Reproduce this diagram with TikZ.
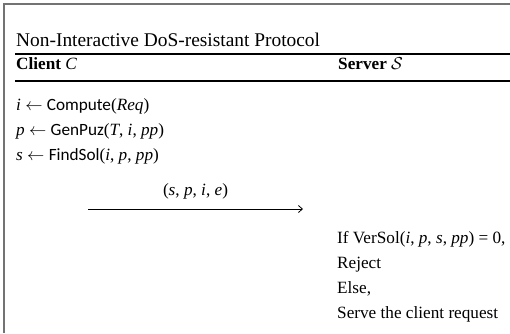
\documentclass[tikz,border=0pt]{standalone}
\usepackage{fontspec}
\usetikzlibrary{arrows.meta,calc}
\setmainfont{Liberation Serif}
\newfontfamily\opfont{Carlito}
\newcommand{\op}[1]{{\opfont #1}}
\newcommand{\vr}[1]{\textit{#1}}
\begin{document}
\begin{tikzpicture}[x=1pt,y=-1pt,
  txt/.style={anchor=base west,inner sep=0pt,font=\fontsize{17.2}{20}\selectfont},
  rulel/.style={line width=1.1pt,black},
  frameline/.style={line width=1.8pt,black!55}]
\useasboundingbox (0,0) rectangle (510,333);
% frame of the figure
\draw[frameline] (4,333) -- (4,4) -- (510,4);
% header
\node[txt,font=\fontsize{19.4}{22}\selectfont] (title) at (16,46) {Non-Interactive DoS-resistant Protocol};
\draw[rulel] (15,54) -- (510,54);
\node[txt] (client) at (16,69) {\textbf{Client} \vr{C}};
\node[txt] (server) at (338,69) {\textbf{Server} $\mathcal{S}$};
\draw[rulel] (15,81) -- (510,81);
% client side
\node[txt] (c1) at (16,110) {\vr{i} $\leftarrow$ \op{Compute}(\vr{Req})};
\node[txt] (c2) at (16,135) {\vr{p} $\leftarrow$ \op{GenPuz}(\vr{T}, \vr{i}, \vr{pp})};
\node[txt] (c3) at (16,160) {\vr{s} $\leftarrow$ \op{FindSol}(\vr{i}, \vr{p}, \vr{pp})};
% message
\coordinate (mL) at (88,209);
\coordinate (mR) at (303,209);
\draw[line width=0.8pt,-{Straight Barb[length=4pt,width=7pt]}] (mL) -- (mR);
\node[txt,anchor=base] (msg) at ($(mL)!0.5!(mR)+(0,-14)$) {(\vr{s}, \vr{p}, \vr{i}, \vr{e})};
% server side
\node[txt] (s1) at (337,243) {If VerSol(\vr{i}, \vr{p}, \vr{s}, \vr{pp}) = 0,};
\node[txt] (s2) at (337,268) {Reject};
\node[txt] (s3) at (337,293) {Else,};
\node[txt] (s4) at (337,318) {Serve the client request};
\end{tikzpicture}
\end{document}
